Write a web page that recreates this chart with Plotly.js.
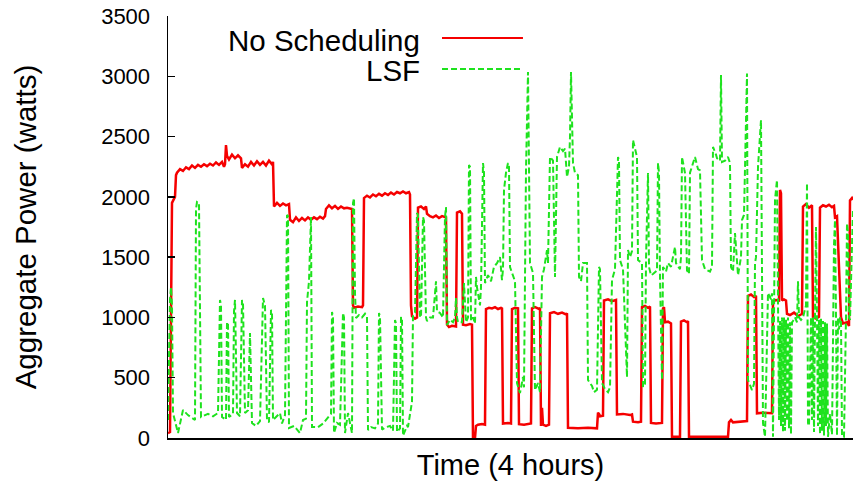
<!DOCTYPE html>
<html>
<head>
<meta charset="utf-8">
<script src="https://cdn.plot.ly/plotly-3.0.1.min.js"></script>
<style>html,body{margin:0;padding:0;background:#fff;}#chart{width:853px;height:486px;}</style>
</head>
<body>
<div id="chart"></div>
<script>
// Sample index (one sample ~21 s over the 4-hour run) and aggregate power in watts
const noSchedT = [0,2,3,4,7,8,9,12,15,18,21,24,27,30,33,36,39,42,45,48,51,54,56,57,58,59,61,64,67,70,73,74,77,80,83,86,89,92,95,98,101,104,105,106,109,112,115,118,121,122,125,128,131,134,137,140,143,146,149,152,155,157,158,161,164,167,170,173,176,179,184,185,186,190,194,195,196,199,202,205,208,211,214,217,220,223,226,229,232,235,238,241,242,243,244,247,249,250,253,256,258,259,262,265,268,271,274,278,279,281,284,288,289,292,294,295,298,302,304,305,307,308,310,314,317,318,321,324,327,330,333,334,335,340,343,344,347,350,351,356,363,364,367,371,372,373,374,375,378,381,382,386,390,394,398,399,400,410,420,429,430,431,432,435,436,440,444,448,449,455,462,464,465,470,473,474,477,480,482,483,488,494,495,496,497,500,503,504,512,513,516,519,520,521,540,560,561,563,565,570,579,580,583,586,588,589,595,604,605,608,611,612,613,614,616,618,619,622,626,630,634,635,638,641,644,645,648,651,652,655,658,661,664,666,667,669,672,673,675,679,681,682,684,685];
const noSchedW = [40,50,1000,1950,2000,2180,2200,2230,2215,2245,2230,2260,2240,2265,2250,2270,2255,2275,2260,2285,2265,2290,2250,2270,2430,2340,2310,2350,2320,2345,2320,2240,2270,2250,2290,2260,2295,2265,2290,2260,2300,2270,2290,1920,1950,1925,1945,1930,1940,1810,1790,1830,1800,1825,1805,1830,1810,1830,1815,1835,1820,1840,1900,1930,1905,1925,1900,1920,1905,1910,1900,1100,1080,1090,1085,1100,1990,2010,1995,2020,2005,2025,2010,2030,2015,2035,2020,2040,2030,2045,2030,2040,2020,1100,1010,990,1000,1910,1920,1900,1920,1860,1840,1830,1845,1825,1840,1830,940,920,930,925,1870,1880,1860,940,935,945,940,0,0,100,110,115,110,1070,1080,1075,1085,1070,1080,1075,120,125,120,1070,1080,1075,115,110,120,1075,1085,1070,1080,100,250,110,100,110,1035,1045,1030,1040,1025,1035,85,80,85,80,210,200,180,185,1140,1150,1135,1145,195,200,190,195,135,130,135,1085,1095,1080,1090,125,120,125,1075,1085,960,965,950,10,10,965,975,960,970,10,10,10,130,150,130,135,140,1180,1190,1170,1180,205,210,205,1130,1145,1140,2057,2030,1140,1150,1140,1030,1020,1040,1010,1030,1920,1940,1910,1930,1000,990,1005,1910,1930,1920,1935,1915,1925,1830,1840,1200,1000,950,960,930,1970,1990,1975];

const lsfT = [0,2,3,4,5,10,15,20,27,28,29,31,33,40,45,50,52,53,54,58,59,60,61,65,66,67,69,72,74,75,77,80,82,84,88,92,95,97,99,101,103,104,105,109,112,114,117,119,120,121,126,132,135,138,139,141,143,144,150,155,160,163,164,165,166,169,172,175,176,177,180,184,185,186,187,188,191,194,197,199,200,203,207,210,211,212,214,218,222,225,227,228,229,232,233,234,235,239,240,244,245,247,249,250,252,253,255,256,258,259,262,265,268,269,272,275,277,278,279,282,285,287,288,289,290,294,296,298,300,301,302,303,305,307,308,309,312,313,315,316,317,320,323,326,329,332,334,335,336,338,340,341,342,345,347,349,352,355,356,358,360,362,365,367,370,372,374,376,379,380,382,385,387,389,392,395,397,399,401,402,403,405,407,410,411,413,415,419,420,424,426,429,431,432,434,437,440,442,444,447,450,451,452,455,459,460,462,464,465,467,469,470,474,475,477,478,480,481,483,485,489,490,491,492,494,495,498,500,503,507,508,512,513,514,516,517,519,521,522,525,527,530,532,534,537,539,542,544,545,548,549,552,553,554,557,560,562,563,565,567,569,570,573,574,576,577,579,580,584,586,587,588,590,593,595,597,599,600,603,604,605,607,609,610,611,612,613,614,615,616,617,618,619,620,621,622,623,624,625,627,629,630,631,633,635,638,639,640,641,643,644,645,646,647,648,649,650,651,652,653,654,655,656,657,658,659,660,662,664,666,667,668,669,670,671,672,673,674,676,678,679,680,681,682,684,685];
const lsfW = [150,1150,1250,1100,207,41,232,190,149,1900,1957,1950,174,200,180,207,1145,1100,174,150,962,950,174,200,1050,1145,207,180,1145,1120,207,230,871,124,100,140,1161,1100,149,130,1062,1050,149,180,207,120,190,1850,1840,83,100,41,149,160,1128,1300,1833,91,90,120,174,200,1045,1000,41,124,110,1037,1000,41,207,41,1949,1990,1200,995,1020,1000,1030,1004,66,91,80,120,1037,1000,70,90,100,60,979,950,50,80,1004,990,20,100,91,300,1020,1040,1866,1850,1004,1000,1833,1800,1000,970,1000,1000,1300,1050,1037,1000,1833,1916,937,980,960,1000,1161,1000,960,960,1285,960,1000,2264,2250,970,1000,950,1336,1250,1100,1250,2281,2200,1285,1350,1300,1420,1450,1500,1310,1400,2057,2200,2281,2250,1418,1336,1300,456,373,506,420,2223,3036,1451,1368,398,456,380,1336,1400,1559,1450,2331,2300,1336,2331,2414,2380,2400,2165,2250,2497,3036,2281,2198,2180,1336,1300,1451,1451,481,431,380,400,1418,1400,456,406,380,420,1310,1400,2331,2300,1476,1400,506,1559,1500,1550,2472,2400,2331,1476,1450,423,450,1476,2198,1418,1350,1360,1390,2281,2200,1336,481,1418,1380,1451,1420,1584,1450,1400,1500,2331,2250,2198,1390,1360,2200,2280,2331,2230,2220,1476,1400,1393,1380,1420,2414,2350,2320,2300,3011,2289,2300,2331,2280,1418,1380,1700,1400,1350,1500,1808,1850,2331,3023,481,398,450,1451,1500,2248,2637,124,10,979,1203,1150,1200,10,1974,2140,979,150,970,100,1000,50,1000,60,980,140,1000,80,960,30,960,970,1000,960,1300,1000,980,1000,1100,2115,124,100,1000,150,1000,50,1000,1750,1000,100,980,30,990,60,970,20,960,100,950,10,200,30,1600,1808,1000,20,1000,900,1000,970,10,10,1000,1780,1700,1000,979,1780,1900];

const yTicks = [0,500,1000,1500,2000,2500,3000,3500];
const seriesNames = ['No Scheduling','LSF'];

const RED = '#f50000';
const GREEN = '#1ee21e';
const FONT = '"Liberation Sans", Arial, Helvetica, sans-serif';

const traces = [
  {x: noSchedT, y: noSchedW, type: 'scatter', mode: 'lines', name: seriesNames[0],
   line: {color: RED, width: 2.5}},
  {x: lsfT, y: lsfW, type: 'scatter', mode: 'lines', name: seriesNames[1],
   line: {color: GREEN, width: 2, dash: '6px,3px'}}
];

const layout = {
  width: 853, height: 486,
  margin: {l: 168, r: 0, t: 16, b: 48, pad: 0},
  paper_bgcolor: '#fff', plot_bgcolor: '#fff',
  showlegend: false,
  font: {family: FONT, color: '#000'},
  xaxis: {
    range: [0, 685], showgrid: false, zeroline: false,
    showline: true, linecolor: '#000', linewidth: 1.5,
    ticks: '', showticklabels: false,
    title: {text: 'Time (4 hours)', font: {size: 29, family: FONT}, standoff: 16},
    automargin: false
  },
  yaxis: {
    range: [0, 3500], tickvals: yTicks, ticktext: yTicks.map(String),
    showgrid: false, zeroline: false,
    showline: true, linecolor: '#000', linewidth: 1.5,
    ticks: 'inside', ticklen: 7, tickcolor: '#000', tickwidth: 1.5,
    ticklabelstandoff: 12,
    tickfont: {size: 22, family: FONT},
    title: {text: 'Aggregate Power (watts)', font: {size: 29.5, family: FONT}, standoff: 56},
    automargin: false
  },
  annotations: [
    {xref: 'paper', yref: 'paper', x: 0.3708, y: 0.9431, xanchor: 'right', yanchor: 'middle',
     text: seriesNames[0], showarrow: false, font: {size: 29.5, family: FONT}},
    {xref: 'paper', yref: 'paper', x: 0.3708, y: 0.872, xanchor: 'right', yanchor: 'middle',
     text: seriesNames[1], showarrow: false, font: {size: 29.5, family: FONT}}
  ],
  shapes: [
    {type: 'line', xref: 'paper', yref: 'paper', x0: 0.4, x1: 0.5182, y0: 0.9479, y1: 0.9479,
     line: {color: RED, width: 2}},
    {type: 'line', xref: 'paper', yref: 'paper', x0: 0.4, x1: 0.5182, y0: 0.8744, y1: 0.8744,
     line: {color: GREEN, width: 2, dash: '6px,3px'}}
  ]
};

Plotly.newPlot('chart', traces, layout, {displayModeBar: false, staticPlot: true});
</script>
</body>
</html>
